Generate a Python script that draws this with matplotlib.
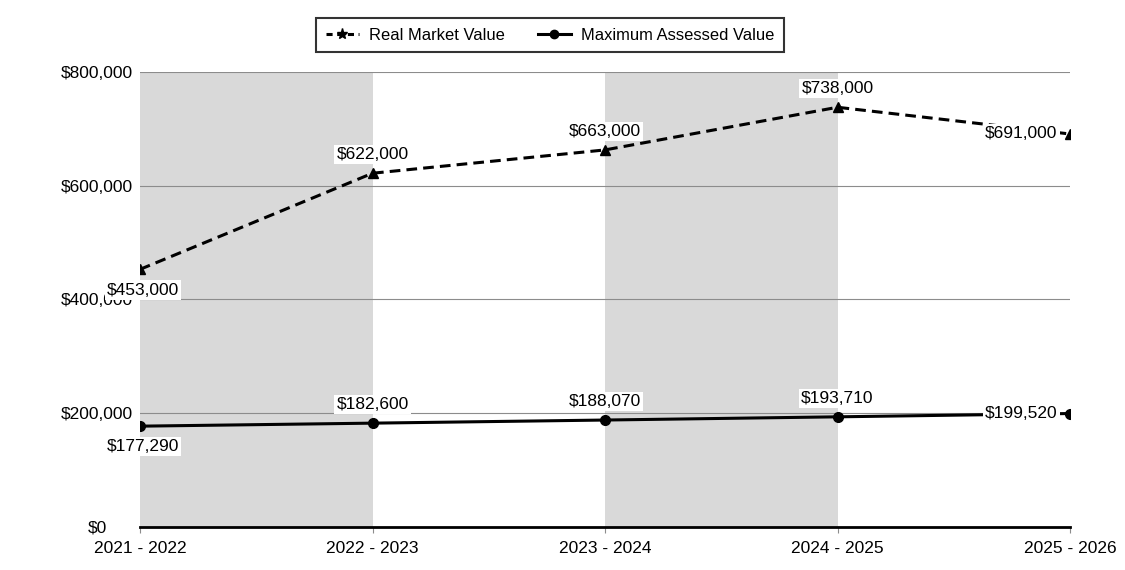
import matplotlib
matplotlib.use("Agg")
import matplotlib.pyplot as plt
from matplotlib.lines import Line2D

categories = ["2021 - 2022", "2022 - 2023", "2023 - 2024", "2024 - 2025", "2025 - 2026"]
real_market = [453000, 622000, 663000, 738000, 691000]
max_assessed = [177290, 182600, 188070, 193710, 199520]
y_ticks = [0, 200000, 400000, 600000, 800000]
y_tick_labels = ["$0", "$200,000", "$400,000", "$600,000", "$800,000"]

plt.rcParams['font.family'] = ['Liberation Sans', 'DejaVu Sans']

fig = plt.figure(figsize=(11.25, 5.7), dpi=100)
ax = fig.add_axes([140/1125, 43/570, 930/1125, 455/570])

x = list(range(len(categories)))
ax.set_xlim(0, 4)
ax.set_ylim(0, 800000)

# shaded bands
for i in (0, 2):
    ax.axvspan(i, i + 1, color="#d9d9d9", zorder=0, lw=0)

for t in y_ticks[1:]:
    ax.axhline(t, color="#8c8c8c", lw=0.8, zorder=1)

ax.plot(x, real_market, ls=(0, (3.5, 2)), color="black", lw=2.2, marker="^", ms=7, zorder=3)
ax.plot(x, max_assessed, ls="-", color="black", lw=2.2, marker="o", ms=7, zorder=3)

bbox = dict(facecolor="white", edgecolor="none", pad=1.5)
fs = 12.5

def label(i, v, pos):
    s = "${:,.0f}".format(v)
    if pos == "above":
        ax.annotate(s, (i, v), xytext=(0, 8), textcoords="offset points", ha="center", va="bottom",
                    fontsize=fs, bbox=bbox, zorder=4)
    elif pos == "below":
        ax.annotate(s, (i, v), xytext=(2, -9.5), textcoords="offset points", ha="center", va="top",
                    fontsize=fs, bbox=bbox, zorder=4)
    elif pos == "left":
        ax.annotate(s, (i, v), xytext=(-9, 0), textcoords="offset points", ha="right", va="center",
                    fontsize=fs, bbox=bbox, zorder=4)

for i, v in enumerate(real_market):
    label(i, v, "below" if i == 0 else ("left" if i == 4 else "above"))
for i, v in enumerate(max_assessed):
    label(i, v, "below" if i == 0 else ("left" if i == 4 else "above"))

ax.set_xticks(x)
ax.set_xticklabels(categories, fontsize=fs)
ax.set_yticks(y_ticks)
ax.set_yticklabels(y_tick_labels, fontsize=fs, ha="center")
ax.tick_params(axis="y", length=0, pad=31)
ax.tick_params(axis="x", length=4, color="#8c8c8c", pad=6)
for sp in ("top", "right", "left"):
    ax.spines[sp].set_visible(False)
ax.spines["bottom"].set_color("black")
ax.spines["bottom"].set_linewidth(2)
ax.spines["bottom"].set_zorder(3)

handles = [
    Line2D([], [], ls=(0, (2, 1.5)), color="black", lw=2.2, marker="*", ms=8),
    Line2D([], [], ls="-", color="black", lw=2.2, marker="o", ms=6),
]
leg = fig.legend(handles, ["Real Market Value", "Maximum Assessed Value"], loc="center",
                 bbox_to_anchor=(550/1125, 1 - 35/570), ncol=2, frameon=True, fontsize=11.9,
                 handlelength=2.0, handletextpad=0.6, columnspacing=2.0, fancybox=False, borderpad=0.6)
leg.get_frame().set_edgecolor("black")
leg.get_frame().set_linewidth(1.5)

fig.savefig("out.png", dpi=100)
